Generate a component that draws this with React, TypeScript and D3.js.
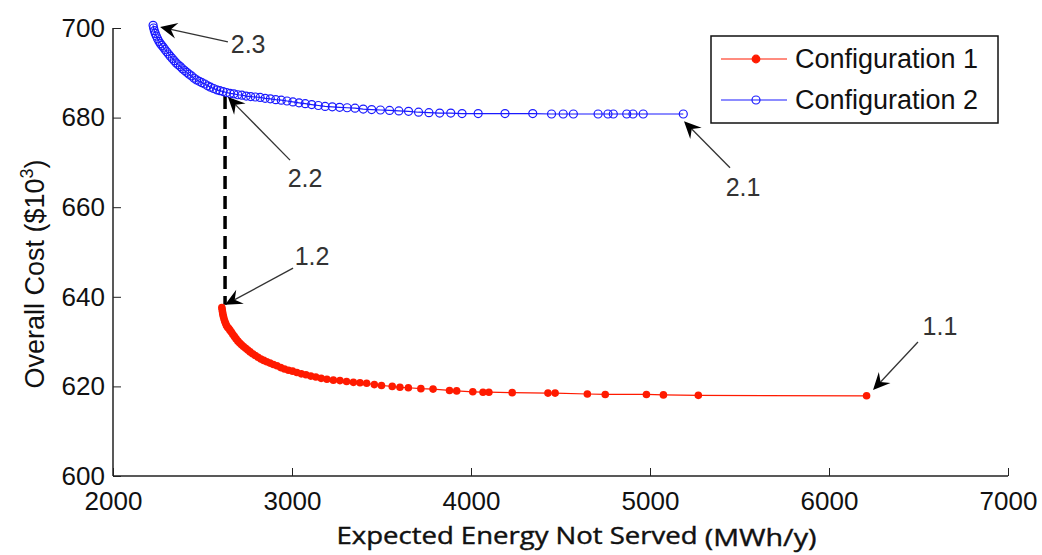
import { useEffect, useRef } from 'react';
import * as d3 from 'd3';

// Configuration 1 (red, filled dots)
const config1X = [2608, 2610, 2612, 2614, 2617, 2620, 2624, 2629, 2634, 2640, 2647, 2654, 2662, 2670, 2679, 2688, 2698, 2708, 2718, 2729, 2741, 2753, 2766, 2780, 2795, 2810, 2826, 2842, 2859, 2877, 2896, 2916, 2937, 2958, 2980, 3003, 3027, 3052, 3078, 3105, 3133, 3163, 3195, 3231, 3268, 3305, 3343, 3380, 3417, 3460, 3500, 3560, 3603, 3650, 3720, 3788, 3880, 3920, 4010, 4067, 4100, 4230, 4430, 4470, 4650, 4750, 4980, 5075, 5270, 6210];
const config1Y = [637.6, 637.1, 636.6, 636.1, 635.6, 635.1, 634.6, 634.1, 633.6, 633.2, 632.9, 632.5, 632.1, 631.6, 631.1, 630.6, 630.1, 629.7, 629.3, 628.9, 628.5, 628.1, 627.7, 627.3, 626.9, 626.5, 626.1, 625.8, 625.5, 625.2, 624.9, 624.6, 624.2, 623.9, 623.6, 623.4, 623.1, 622.8, 622.6, 622.3, 622.1, 621.8, 621.6, 621.4, 621.3, 621.1, 620.9, 620.8, 620.7, 620.4, 620.2, 620.0, 619.8, 619.7, 619.5, 619.4, 619.1, 619.0, 618.8, 618.7, 618.7, 618.6, 618.5, 618.5, 618.3, 618.2, 618.2, 618.1, 618.0, 617.9];

// Configuration 2 (blue, open circles)
const config2X = [2224, 2227, 2231, 2236, 2242, 2249, 2257, 2265, 2273, 2281, 2290, 2300, 2310, 2320, 2331, 2342, 2353, 2364, 2376, 2388, 2400, 2412, 2425, 2439, 2453, 2467, 2482, 2497, 2513, 2529, 2545, 2562, 2579, 2597, 2615, 2634, 2654, 2675, 2697, 2720, 2744, 2769, 2795, 2822, 2850, 2879, 2909, 2940, 2972, 3005, 3039, 3074, 3110, 3147, 3185, 3225, 3266, 3308, 3352, 3398, 3445, 3494, 3545, 3597, 3651, 3707, 3765, 3825, 3887, 3950, 4040, 4190, 4345, 4450, 4515, 4572, 4710, 4765, 4795, 4870, 4905, 4962, 5186];
const config2Y = [700.6, 700.0, 699.4, 698.8, 698.2, 697.6, 697.0, 696.5, 696.1, 695.7, 695.2, 694.7, 694.2, 693.7, 693.2, 692.7, 692.2, 691.8, 691.4, 690.9, 690.5, 690.1, 689.7, 689.3, 688.8, 688.4, 688.1, 687.8, 687.5, 687.1, 686.8, 686.5, 686.2, 686.0, 685.8, 685.6, 685.4, 685.3, 685.1, 685.0, 684.8, 684.7, 684.6, 684.5, 684.3, 684.2, 684.0, 683.9, 683.7, 683.5, 683.3, 683.1, 682.9, 682.7, 682.5, 682.4, 682.3, 682.2, 682.1, 681.9, 681.8, 681.7, 681.6, 681.5, 681.4, 681.2, 681.1, 681.0, 681.0, 680.9, 680.9, 680.9, 680.9, 680.8, 680.8, 680.8, 680.8, 680.8, 680.8, 680.8, 680.8, 680.8, 680.8];

const xTicks = [2000, 3000, 4000, 5000, 6000, 7000];
const yTicks = [600, 620, 640, 660, 680, 700];
const seriesNames = ['Configuration 1', 'Configuration 2'];

// annotations: label, arrow tip, arrow tail, text anchor (data units)
const annLabels = ['2.3', '2.2', '1.2', '2.1', '1.1'];
const annTip = [[2263, 700.2], [2642, 684.6], [2626, 638.2], [5190, 679.2], [6246, 619.2]];
const annTail = [[2642, 696.9], [2989, 670.5], [3006, 646.4], [5447, 668.8], [6497, 629.9]];
const annText = [[2755, 694.4], [3073, 664.5], [3112, 647.1], [5520, 662.5], [6620, 631.5]];

// dashed link from 2.2 down to 1.2
const linkX = [2626, 2626];
const linkY = [684.8, 638.2];

export default function App() {
  const ref = useRef<SVGSVGElement | null>(null);

  useEffect(() => {
    if (!ref.current) return;
    const svg = d3.select(ref.current);
    svg.selectAll('*').remove();

    const left = 113, right = 1008, top = 28, bottom = 476;
    const x = d3.scaleLinear().domain([2000, 7000]).range([left, right]);
    const y = d3.scaleLinear().domain([600, 700]).range([bottom, top]);
    const font = 'Arial, "Liberation Sans", Helvetica, sans-serif';

    // axes (ticks pointing inward, matlab style)
    const xAxis = svg.append('g')
      .attr('transform', `translate(0,${bottom})`)
      .call(d3.axisBottom(x).tickValues(xTicks).tickSize(-8).tickPadding(16).tickFormat(d3.format('d')));
    const yAxis = svg.append('g')
      .attr('transform', `translate(${left},0)`)
      .call(d3.axisLeft(y).tickValues(yTicks).tickSize(-8).tickPadding(8).tickFormat(d3.format('d')));
    [xAxis, yAxis].forEach(a => {
      a.select('.domain').attr('stroke', '#222').attr('stroke-width', 1.5);
      a.selectAll('.tick line').attr('stroke', '#222').attr('stroke-width', 1);
      a.selectAll('.tick text').attr('fill', '#111').style('font-family', font).style('font-size', '26px');
    });
    yAxis.select('.domain').attr('d', `M0,${top}V${bottom}`);
    xAxis.select('.domain').attr('d', `M${left},0H${right}`);

    // axis titles
    svg.append('text')
      .attr('x', (left + right) / 2 + 16)
      .attr('y', 544)
      .attr('text-anchor', 'middle')
      .attr('textLength', 480)
      .attr('lengthAdjust', 'spacingAndGlyphs')
      .style('font-family', '"Open Sans", "Noto Sans", sans-serif')
      .style('font-size', '23px')
      .attr('fill', '#111')
      .attr('stroke', '#111')
      .attr('stroke-width', 0.4)
      .call(t => {
        t.append('tspan').text('Expected Energy Not Served ');
        t.append('tspan').attr('dy', 2).style('font-size', '24px').text('(MWh/y)');
      });

    const yl = svg.append('text')
      .attr('transform', `translate(44,${(top + bottom) / 2 + 22}) rotate(-90)`)
      .attr('text-anchor', 'middle')
      .style('font-family', font)
      .style('font-size', '27px')
      .attr('fill', '#111');
    yl.append('tspan').text('Overall Cost ($10');
    yl.append('tspan').attr('dy', -11).style('font-size', '18px').text('3');
    yl.append('tspan').attr('dy', 11).text(')');

    // dashed link
    svg.append('line')
      .attr('x1', x(linkX[0])).attr('y1', y(linkY[0]))
      .attr('x2', x(linkX[1])).attr('y2', y(linkY[1]))
      .attr('stroke', '#000').attr('stroke-width', 3.5)
      .attr('stroke-dasharray', '13,7');

    const line = d3.line<[number, number]>();

    // series 1
    const pts1 = config1X.map((v, i) => [x(v), y(config1Y[i])] as [number, number]);
    svg.append('path').attr('d', line(pts1)).attr('fill', 'none').attr('stroke', '#ff1a00').attr('stroke-width', 1.2);
    svg.append('g').selectAll('circle').data(pts1).enter().append('circle')
      .attr('cx', d => d[0]).attr('cy', d => d[1]).attr('r', 3.8).attr('fill', '#ff1a00');

    // series 2
    const pts2 = config2X.map((v, i) => [x(v), y(config2Y[i])] as [number, number]);
    svg.append('path').attr('d', line(pts2)).attr('fill', 'none').attr('stroke', '#1a1aff').attr('stroke-width', 1.2);
    svg.append('g').selectAll('circle').data(pts2).enter().append('circle')
      .attr('cx', d => d[0]).attr('cy', d => d[1]).attr('r', 4)
      .attr('fill', 'none').attr('stroke', '#1a1aff').attr('stroke-width', 1.2);

    // annotation arrows
    annLabels.forEach((lab, i) => {
      const tx = x(annTip[i][0]), ty = y(annTip[i][1]);
      const sx = x(annTail[i][0]), sy = y(annTail[i][1]);
      const len = Math.hypot(tx - sx, ty - sy);
      const ux = (tx - sx) / len, uy = (ty - sy) / len;
      const nx = -uy, ny = ux;
      const L = 17, W = 8, notch = 6;
      svg.append('line')
        .attr('x1', sx).attr('y1', sy)
        .attr('x2', tx - (L - notch) * ux).attr('y2', ty - (L - notch) * uy)
        .attr('stroke', '#333').attr('stroke-width', 1.3);
      const head = [
        [tx, ty],
        [tx - L * ux + W * nx, ty - L * uy + W * ny],
        [tx - (L - notch) * ux, ty - (L - notch) * uy],
        [tx - L * ux - W * nx, ty - L * uy - W * ny],
      ];
      svg.append('path').attr('d', 'M' + head.map(p => p.join(',')).join('L') + 'Z').attr('fill', '#000');
      svg.append('text')
        .attr('x', x(annText[i][0])).attr('y', y(annText[i][1]))
        .attr('text-anchor', 'middle')
        .style('font-family', font).style('font-size', '25px')
        .attr('fill', '#333')
        .text(lab);
    });

    // legend
    const lg = svg.append('g').attr('transform', 'translate(711,36)');
    lg.append('rect').attr('width', 287).attr('height', 87)
      .attr('fill', '#fff').attr('stroke', '#111').attr('stroke-width', 1.5);
    const colors = ['#ff1a00', '#1a1aff'];
    seriesNames.forEach((name, i) => {
      const ry = 23 + i * 41;
      lg.append('line').attr('x1', 10).attr('x2', 76).attr('y1', ry).attr('y2', ry)
        .attr('stroke', colors[i]).attr('stroke-width', 1.2);
      lg.append('circle').attr('cx', 45).attr('cy', ry).attr('r', i === 0 ? 3.8 : 4)
        .attr('fill', i === 0 ? colors[i] : 'none')
        .attr('stroke', colors[i]).attr('stroke-width', 1.2);
      lg.append('text').attr('x', 84).attr('y', ry + 9)
        .style('font-family', font).style('font-size', '27px')
        .attr('fill', '#111')
        .text(name);
    });
  }, []);

  return (
    <svg ref={ref} width={1042} height={555}
      style={{ position: 'absolute', left: 0, top: 0, background: '#fff', display: 'block' }} />
  );
}
